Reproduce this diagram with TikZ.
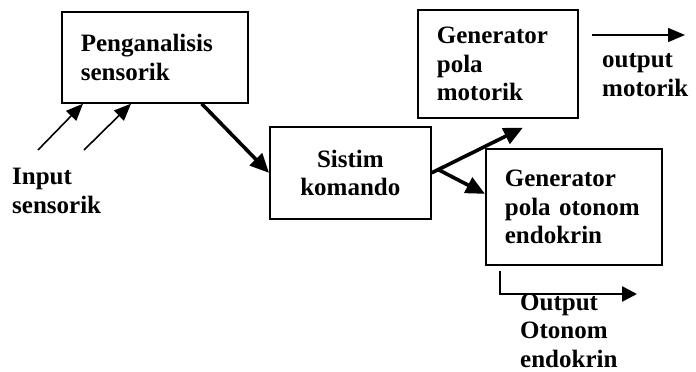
\documentclass[tikz,border=0pt]{standalone}
\usepackage{fontspec}
\setmainfont{Liberation Serif}
\usetikzlibrary{arrows.meta}
\newcommand\lblfont{\bfseries\fontsize{25}{28.5}\selectfont}
\tikzset{
  box/.style={draw, line width=1.7pt, anchor=north west, inner xsep=19pt, inner ysep=0pt, align=left, font=\lblfont},
  lbl/.style={anchor=base west, inner sep=0pt, align=left, font=\lblfont},
  thinarrow/.style={line width=1.6pt, -{Triangle[length=17pt,width=14pt]}},
  thickarrow/.style={line width=3.6pt, -{Triangle[length=19pt,width=17pt]}},
  outarrow/.style={line width=2.6pt, -{Triangle[length=15pt,width=15pt]}},
}
\begin{document}
\begin{tikzpicture}[x=1pt,y=-1pt]
\useasboundingbox (0,0) rectangle (696,372);
% boxes
\node[box, minimum width=186pt, minimum height=91pt, text width=148pt] (pa) at (61,11) {Penganalisis\\sensorik};
\node[box, minimum width=161pt, minimum height=92pt, text width=123pt, align=center] (sk) at (269,126) {Sistim\\komando};
\node[box, minimum width=160pt, minimum height=108pt, text width=122pt] (gm) at (417,9) {Generator\\pola\\motorik};
\node[box, minimum width=176pt, minimum height=116pt, text width=138pt] (go) at (485,148) {Generator\\pola otonom\\endokrin};
% labels (anchored at the baseline of the last line)
\node[lbl] (inp) at (12,213) {Input\\sensorik};
\node[lbl] (outm) at (602,96) {output\\motorik};
\node[lbl] (outo) at (520,367) {Output\\Otonom\\endokrin};
% free ends
\coordinate (i1) at (38,150);
\coordinate (i2) at (84,150);
\coordinate (om1) at (592,35);
\coordinate (om2) at (685,35);
\coordinate (oo1) at (500,271);
\coordinate (oo2) at (637,294);
% connectors
\draw[thinarrow] (i1) -- ([xshift=22pt]pa.south west);
\draw[thinarrow] (i2) -- ([xshift=70pt]pa.south west);
\draw[thickarrow] ([xshift=-47pt]pa.south east) -- (sk.west);
\draw[thickarrow] (sk.east) -- ([shift={(25,9)}]gm.south);
\draw[thickarrow] ([shift={(7,-3)}]sk.east) -- ([shift={(0,-13)}]go.west);
\draw[thinarrow] (om1) -- (om2);
\draw[outarrow] (oo1) |- (oo2);
\end{tikzpicture}
\end{document}
